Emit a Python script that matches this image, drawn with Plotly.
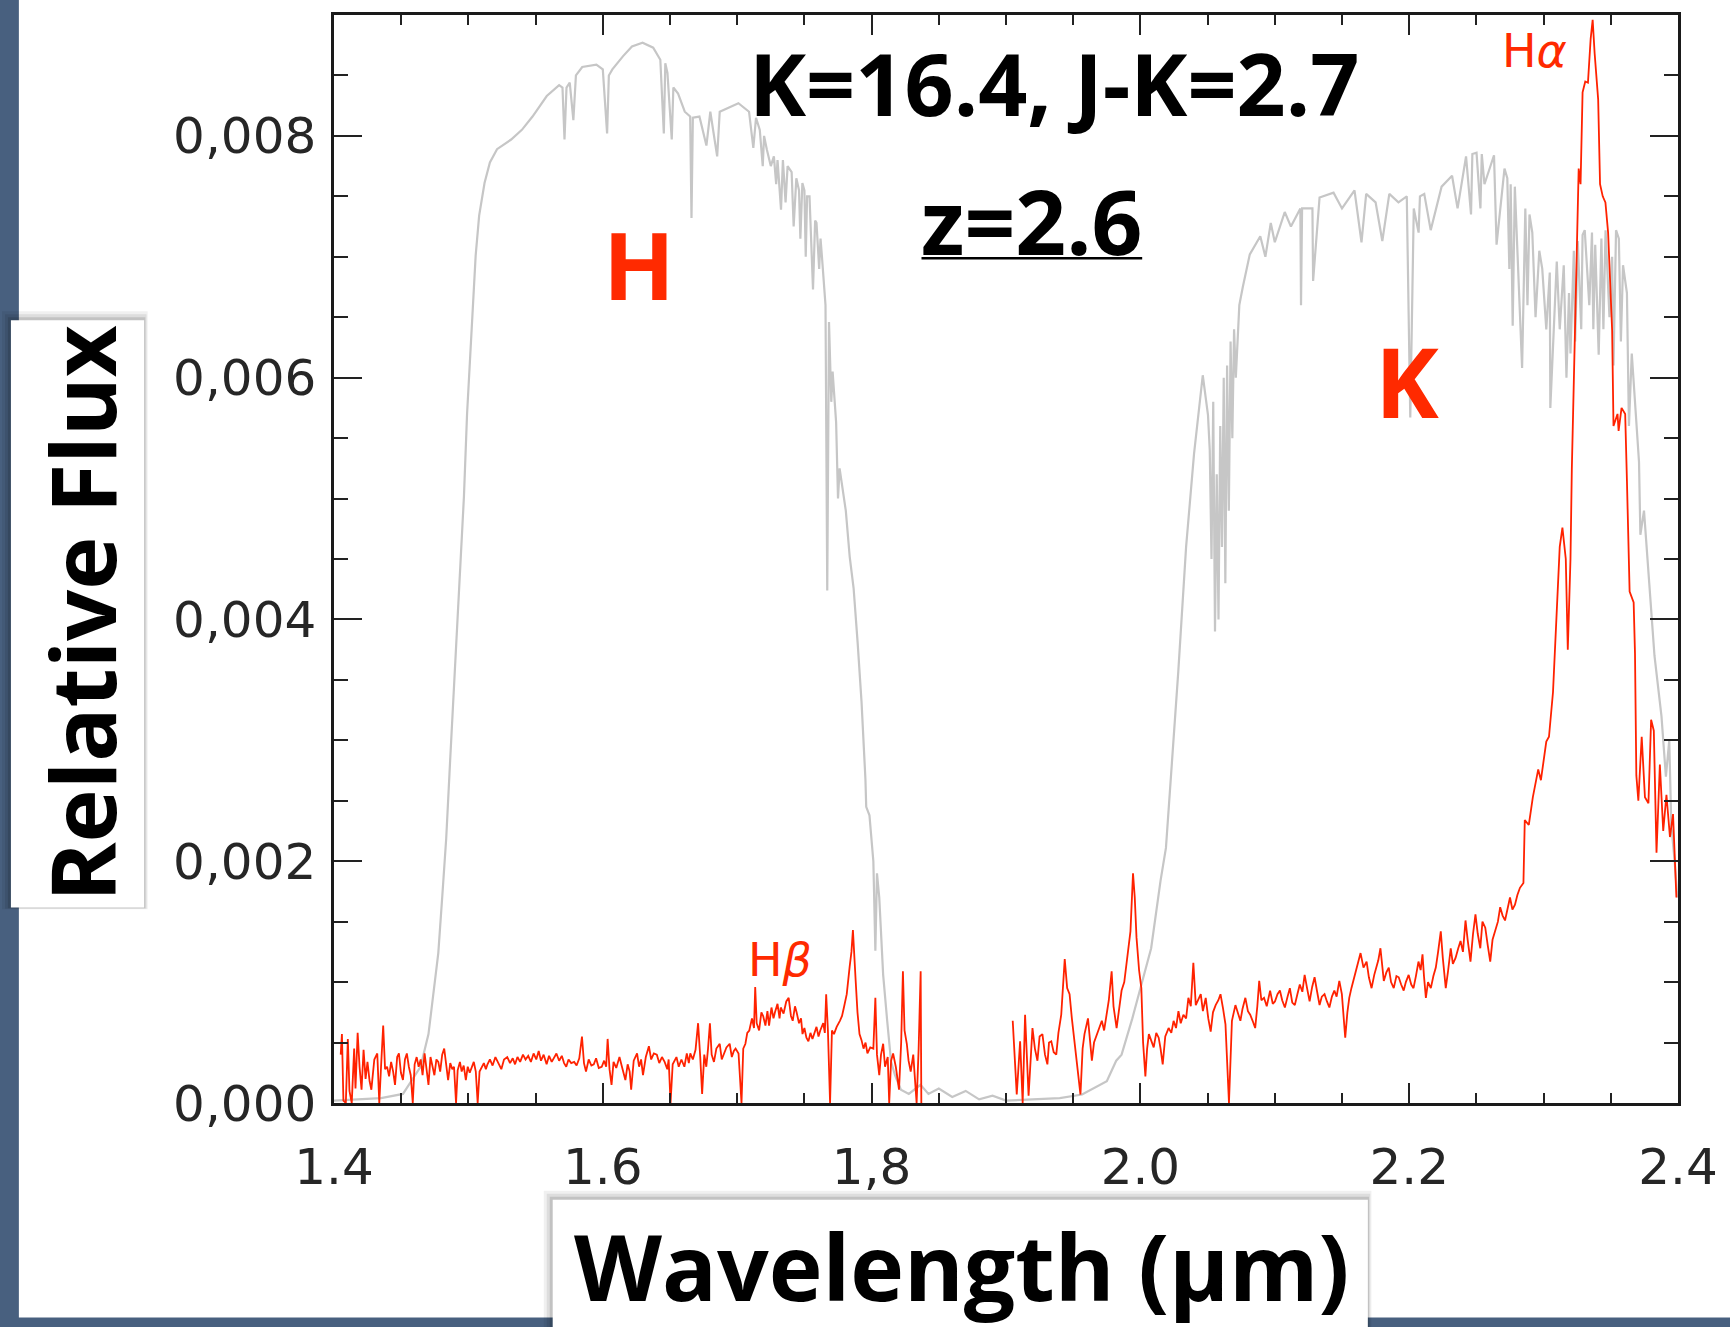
import plotly.graph_objects as go

# ---------------- data ----------------
# gray: atmospheric transmission / band profile (H and K windows)
gray_spec = [
    (1.4000, 0.00002), (1.4200, 0.00003), (1.4350, 0.00004), (1.4513, 0.000075),
    (1.4644, 0.00030), (1.4703, 0.00057), (1.4738, 0.00087), (1.4776, 0.00124),
    (1.4805, 0.00170), (1.4835, 0.00219), (1.4864, 0.00283), (1.4893, 0.00343),
    (1.4914, 0.00388), (1.4937, 0.00434), (1.4967, 0.00502), (1.4990, 0.00570),
    (1.5028, 0.00646), (1.5054, 0.00701), (1.5080, 0.00734), (1.5120, 0.00761),
    (1.5160, 0.00778), (1.5213, 0.00789), (1.5318, 0.00797), (1.5398, 0.00805),
    (1.5477, 0.00816), (1.5583, 0.00833), (1.5675, 0.00842), (1.5700, 0.00840),
    (1.5715, 0.00797), (1.5730, 0.00840), (1.5754, 0.00844), (1.5781, 0.00813),
    (1.5800, 0.00850), (1.5847, 0.00857), (1.5952, 0.00859), (1.6000, 0.00855),
    (1.6032, 0.00802), (1.6045, 0.00850), (1.6071, 0.00855), (1.6151, 0.00866),
    (1.6217, 0.00874), (1.6296, 0.00877), (1.6375, 0.00873), (1.6428, 0.00863),
    (1.6454, 0.00802), (1.6465, 0.00860), (1.6481, 0.00852), (1.6513, 0.00797),
    (1.6525, 0.00840), (1.6560, 0.00835), (1.6610, 0.00820), (1.6650, 0.00816),
    (1.6660, 0.00732), (1.6670, 0.00815), (1.6719, 0.00816), (1.6771, 0.00792),
    (1.6800, 0.00820), (1.6851, 0.00783), (1.6870, 0.00820), (1.6930, 0.00823),
    (1.7009, 0.00827), (1.7088, 0.00820), (1.7120, 0.00790), (1.7140, 0.00815),
    (1.7168, 0.00805), (1.7190, 0.00775), (1.7200, 0.00800), (1.7220, 0.00789),
    (1.7250, 0.00775), (1.7273, 0.00783), (1.7290, 0.00760), (1.7300, 0.00780),
    (1.7326, 0.00739), (1.7340, 0.00780), (1.7360, 0.00745), (1.7375, 0.00775),
    (1.7405, 0.00770), (1.7420, 0.00725), (1.7440, 0.00765), (1.7460, 0.00755),
    (1.7470, 0.00715), (1.7485, 0.00761), (1.7500, 0.00755), (1.7510, 0.00700),
    (1.7520, 0.00750), (1.7538, 0.00750), (1.7564, 0.00673), (1.7580, 0.00730),
    (1.7590, 0.00728), (1.7610, 0.00690), (1.7620, 0.00715), (1.7630, 0.00701),
    (1.7657, 0.00660), (1.7670, 0.00424), (1.7683, 0.00646), (1.7700, 0.00580),
    (1.7710, 0.00605), (1.7736, 0.00563), (1.7750, 0.00500), (1.7762, 0.00525),
    (1.7789, 0.00505), (1.7808, 0.00490), (1.7837, 0.00452), (1.7866, 0.00426),
    (1.7896, 0.00381), (1.7925, 0.00332), (1.7954, 0.00268), (1.7960, 0.00245),
    (1.7984, 0.00238), (1.8013, 0.00200), (1.8028, 0.00126), (1.8040, 0.00190),
    (1.8057, 0.00170), (1.8086, 0.00106), (1.8116, 0.00068), (1.8145, 0.00034),
    (1.8174, 0.00023), (1.8218, 0.00011), (1.8277, 0.000075), (1.8364, 0.00015),
    (1.8423, 0.000075), (1.8500, 0.00012), (1.8600, 0.00005), (1.8700, 0.00010),
    (1.8800, 0.00003), (1.8900, 0.00006), (1.9000, 0.00002), (1.9200, 0.00003),
    (1.9400, 0.00004), (1.9566, 0.00007), (1.9750, 0.00018), (1.9820, 0.00035),
    (1.9860, 0.00040), (1.9940, 0.00070), (2.0000, 0.00095), (2.0080, 0.00128),
    (2.0150, 0.00184), (2.0190, 0.00211), (2.0282, 0.00357), (2.0340, 0.00460),
    (2.0399, 0.00537), (2.0464, 0.00602), (2.0503, 0.00569), (2.0516, 0.00540),
    (2.0529, 0.00450), (2.0542, 0.00580), (2.0555, 0.00390), (2.0568, 0.00520),
    (2.0581, 0.00400), (2.0594, 0.00560), (2.0607, 0.00460), (2.0620, 0.00600),
    (2.0632, 0.00430), (2.0645, 0.00610), (2.0658, 0.00490), (2.0671, 0.00630),
    (2.0684, 0.00550), (2.0697, 0.00640), (2.0710, 0.00600), (2.0736, 0.00660),
    (2.0762, 0.00675), (2.0788, 0.00690), (2.0814, 0.00702), (2.0892, 0.00717),
    (2.0930, 0.00700), (2.0970, 0.00728), (2.1000, 0.00712), (2.1074, 0.00737),
    (2.1120, 0.00725), (2.1190, 0.00740), (2.1195, 0.00660), (2.1203, 0.00740),
    (2.1280, 0.00740), (2.1285, 0.00680), (2.1333, 0.00749), (2.1437, 0.00753),
    (2.1500, 0.00740), (2.1593, 0.00755), (2.1645, 0.00712), (2.1680, 0.00752),
    (2.1750, 0.00745), (2.1800, 0.00713), (2.1852, 0.00752), (2.1920, 0.00745),
    (2.1982, 0.00750), (2.2008, 0.00567), (2.2034, 0.00740), (2.2070, 0.00720),
    (2.2080, 0.00750), (2.2112, 0.00752), (2.2160, 0.00722), (2.2241, 0.00758),
    (2.2319, 0.00767), (2.2360, 0.00740), (2.2423, 0.00783), (2.2460, 0.00735),
    (2.2470, 0.00785), (2.2501, 0.00786), (2.2530, 0.00740), (2.2540, 0.00785),
    (2.2560, 0.00760), (2.2631, 0.00784), (2.2650, 0.00710), (2.2709, 0.00773),
    (2.2730, 0.00765), (2.2745, 0.00690), (2.2755, 0.00760), (2.2770, 0.00643),
    (2.2786, 0.00758), (2.2840, 0.00608), (2.2864, 0.00740), (2.2880, 0.00660),
    (2.2895, 0.00735), (2.2916, 0.00720), (2.2940, 0.00650), (2.2968, 0.00705),
    (2.2990, 0.00690), (2.3020, 0.00640), (2.3046, 0.00687), (2.3050, 0.00575),
    (2.3098, 0.00696), (2.3120, 0.00640), (2.3150, 0.00693), (2.3170, 0.00600),
    (2.3189, 0.00670), (2.3200, 0.00620), (2.3225, 0.00705), (2.3235, 0.00630),
    (2.3254, 0.00713), (2.3280, 0.00640), (2.3290, 0.00718), (2.3306, 0.00722),
    (2.3320, 0.00700), (2.3340, 0.00660), (2.3360, 0.00720), (2.3370, 0.00640),
    (2.3384, 0.00710), (2.3410, 0.00619), (2.3430, 0.00715), (2.3445, 0.00640),
    (2.3461, 0.00722), (2.3490, 0.00650), (2.3510, 0.00700), (2.3520, 0.00610),
    (2.3539, 0.00722), (2.3560, 0.00715), (2.3575, 0.00630), (2.3591, 0.00693),
    (2.3620, 0.00670), (2.3635, 0.00560), (2.3656, 0.00620), (2.3695, 0.00560),
    (2.3710, 0.00530), (2.3720, 0.00470), (2.3747, 0.00490), (2.3786, 0.00430),
    (2.3825, 0.00370), (2.3877, 0.00320), (2.3910, 0.00270), (2.3935, 0.00300),
    (2.3950, 0.00230), (2.3975, 0.00200), (2.3995, 0.00170),
]

# red: observed spectrum, H-band segment
red_h_spec = [
    (1.4050, 0.00040), (1.4059, 0.00057), (1.4070, 0.00002), (1.4088, 0.00000),
    (1.4103, 0.00053), (1.4115, 0.00010), (1.4132, 0.00000), (1.4150, 0.00045),
    (1.4160, 0.00012), (1.4176, 0.00058), (1.4190, 0.00030), (1.4205, 0.00011),
    (1.4220, 0.00044), (1.4235, 0.00020), (1.4249, 0.00034), (1.4265, 0.00018),
    (1.4278, 0.00011), (1.4300, 0.00036), (1.4322, 0.00041), (1.4337, 0.00000),
    (1.4350, 0.00030), (1.4366, 0.00064), (1.4380, 0.00028), (1.4395, 0.00030),
    (1.4410, 0.00022), (1.4425, 0.00034), (1.4440, 0.00026), (1.4454, 0.00015),
    (1.4470, 0.00038), (1.4483, 0.00041), (1.4498, 0.00025), (1.4513, 0.00019),
    (1.4528, 0.00036), (1.4542, 0.00041), (1.4557, 0.00030), (1.4571, 0.00023),
    (1.4586, 0.00000), (1.4600, 0.00032), (1.4615, 0.00038), (1.4630, 0.00030),
    (1.4645, 0.00036), (1.4659, 0.00023), (1.4674, 0.00041), (1.4690, 0.00028),
    (1.4703, 0.00015), (1.4718, 0.00038), (1.4732, 0.00030), (1.4747, 0.00023),
    (1.4762, 0.00036), (1.4776, 0.00034), (1.4790, 0.00026), (1.4805, 0.00040),
    (1.4820, 0.00045), (1.4835, 0.00030), (1.4849, 0.00019), (1.4865, 0.00033),
    (1.4880, 0.00028), (1.4893, 0.00030), (1.4908, 0.00000), (1.4920, 0.00027),
    (1.4937, 0.00034), (1.4950, 0.00026), (1.4965, 0.00031), (1.4981, 0.00019),
    (1.4995, 0.00030), (1.5010, 0.00025), (1.5025, 0.00030), (1.5040, 0.00034),
    (1.5055, 0.00026), (1.5069, 0.00000), (1.5083, 0.00026), (1.5098, 0.00030),
    (1.5115, 0.00033), (1.5130, 0.00028), (1.5142, 0.00032), (1.5160, 0.00036),
    (1.5180, 0.00031), (1.5201, 0.00038), (1.5220, 0.00034), (1.5245, 0.00028),
    (1.5265, 0.00036), (1.5289, 0.00038), (1.5310, 0.00033), (1.5330, 0.00037),
    (1.5347, 0.00032), (1.5365, 0.00038), (1.5385, 0.00034), (1.5406, 0.00040),
    (1.5425, 0.00036), (1.5445, 0.00039), (1.5465, 0.00034), (1.5485, 0.00041),
    (1.5505, 0.00036), (1.5523, 0.00043), (1.5540, 0.00035), (1.5560, 0.00040),
    (1.5582, 0.00032), (1.5600, 0.00039), (1.5620, 0.00034), (1.5637, 0.00038),
    (1.5655, 0.00041), (1.5675, 0.00035), (1.5695, 0.00039), (1.5712, 0.00033),
    (1.5728, 0.00030), (1.5745, 0.00036), (1.5765, 0.00033), (1.5787, 0.00034),
    (1.5805, 0.00031), (1.5825, 0.00037), (1.5845, 0.00055), (1.5860, 0.00033),
    (1.5875, 0.00026), (1.5895, 0.00036), (1.5915, 0.00031), (1.5933, 0.00032),
    (1.5950, 0.00037), (1.5970, 0.00029), (1.5992, 0.00030), (1.6010, 0.00035),
    (1.6025, 0.00030), (1.6036, 0.00053), (1.6050, 0.00028), (1.6065, 0.00015),
    (1.6080, 0.00034), (1.6100, 0.00029), (1.6124, 0.00038), (1.6140, 0.00031),
    (1.6155, 0.00025), (1.6168, 0.00019), (1.6185, 0.00032), (1.6200, 0.00026),
    (1.6211, 0.00011), (1.6230, 0.00035), (1.6255, 0.00041), (1.6270, 0.00030),
    (1.6285, 0.00036), (1.6299, 0.00023), (1.6320, 0.00038), (1.6343, 0.00047),
    (1.6360, 0.00036), (1.6380, 0.00041), (1.6402, 0.00040), (1.6420, 0.00033),
    (1.6440, 0.00038), (1.6460, 0.00034), (1.6480, 0.00028), (1.6490, 0.00036),
    (1.6504, 0.00000), (1.6520, 0.00032), (1.6548, 0.00038), (1.6565, 0.00030),
    (1.6585, 0.00036), (1.6607, 0.00030), (1.6625, 0.00041), (1.6640, 0.00033),
    (1.6651, 0.00041), (1.6670, 0.00036), (1.6690, 0.00044), (1.6709, 0.00066),
    (1.6725, 0.00038), (1.6739, 0.000075), (1.6755, 0.00040), (1.6770, 0.00030),
    (1.6783, 0.00045), (1.6797, 0.00066), (1.6810, 0.00040), (1.6827, 0.00034),
    (1.6845, 0.00045), (1.6870, 0.00049), (1.6885, 0.00036), (1.6900, 0.00041),
    (1.6920, 0.00046), (1.6944, 0.00049), (1.6960, 0.00038), (1.6975, 0.00043),
    (1.6988, 0.00045), (1.7010, 0.00041), (1.7032, 0.00000), (1.7045, 0.00045),
    (1.7061, 0.00049), (1.7075, 0.00058), (1.7090, 0.00060), (1.7110, 0.00070),
    (1.7125, 0.00062), (1.7134, 0.00096), (1.7145, 0.00066), (1.7163, 0.00060),
    (1.7180, 0.00075), (1.7193, 0.00072), (1.7210, 0.00064), (1.7225, 0.00076),
    (1.7237, 0.00064), (1.7255, 0.00079), (1.7270, 0.00070), (1.7281, 0.00075),
    (1.7300, 0.00082), (1.7315, 0.00070), (1.7324, 0.00079), (1.7345, 0.00074),
    (1.7365, 0.00084), (1.7383, 0.00087), (1.7400, 0.00072), (1.7413, 0.00068),
    (1.7430, 0.00080), (1.7442, 0.00075), (1.7460, 0.00066), (1.7475, 0.00070),
    (1.7486, 0.00057), (1.7500, 0.00062), (1.7515, 0.00054), (1.7530, 0.00051),
    (1.7545, 0.00058), (1.7560, 0.00053), (1.7574, 0.00057), (1.7590, 0.00063),
    (1.7605, 0.00055), (1.7618, 0.00060), (1.7640, 0.00066), (1.7652, 0.00058),
    (1.7662, 0.00090), (1.7675, 0.00060), (1.7691, 0.00000), (1.7705, 0.00060),
    (1.7720, 0.00057), (1.7740, 0.00063), (1.7764, 0.00068), (1.7780, 0.00072),
    (1.7794, 0.00079), (1.7815, 0.00090), (1.7837, 0.00113), (1.7850, 0.00125),
    (1.7861, 0.00143), (1.7872, 0.00115), (1.7881, 0.00102), (1.7895, 0.00075),
    (1.7910, 0.00057), (1.7925, 0.00052), (1.7940, 0.00045), (1.7955, 0.00050),
    (1.7969, 0.00041), (1.7990, 0.00046), (1.8013, 0.00045), (1.8028, 0.00087),
    (1.8040, 0.00040), (1.8057, 0.00023), (1.8070, 0.00040), (1.8086, 0.00049),
    (1.8100, 0.00030), (1.8120, 0.00038), (1.8131, 0.00000), (1.8145, 0.00035),
    (1.8160, 0.00041), (1.8180, 0.00030), (1.8204, 0.00011), (1.8220, 0.00050),
    (1.8233, 0.00109), (1.8245, 0.00060), (1.8262, 0.00049), (1.8275, 0.00035),
    (1.8291, 0.00026), (1.8310, 0.00040), (1.8335, 0.00000), (1.8350, 0.00045),
    (1.8365, 0.00109), (1.8370, 0.00000),
]

# red: observed spectrum, K-band segment
red_k_spec = [
    (1.9050, 0.00068), (1.9080, 0.00007), (1.9105, 0.00051), (1.9124, 0.00000),
    (1.9142, 0.00073), (1.9168, 0.00006), (1.9197, 0.00062), (1.9215, 0.00045),
    (1.9234, 0.00035), (1.9250, 0.00055), (1.9271, 0.00057), (1.9290, 0.00040),
    (1.9308, 0.00032), (1.9320, 0.00050), (1.9337, 0.00051), (1.9355, 0.00042),
    (1.9374, 0.00040), (1.9390, 0.00058), (1.9411, 0.00073), (1.9437, 0.00119),
    (1.9455, 0.00095), (1.9473, 0.00090), (1.9490, 0.00070), (1.9510, 0.00051),
    (1.9530, 0.00030), (1.9554, 0.00007), (1.9570, 0.00045), (1.9584, 0.00057),
    (1.9610, 0.00070), (1.9625, 0.00050), (1.9639, 0.00035), (1.9655, 0.00050),
    (1.9676, 0.00057), (1.9695, 0.00062), (1.9713, 0.00068), (1.9730, 0.00060),
    (1.9750, 0.00076), (1.9765, 0.00085), (1.9786, 0.00109), (1.9800, 0.00080),
    (1.9823, 0.00062), (1.9840, 0.00075), (1.9860, 0.00093), (1.9880, 0.00100),
    (1.9897, 0.00117), (1.9926, 0.00142), (1.9945, 0.00190), (1.9958, 0.00170),
    (1.9971, 0.00137), (1.9990, 0.00110), (2.0007, 0.00095), (2.0020, 0.00050),
    (2.0037, 0.00022), (2.0050, 0.00045), (2.0063, 0.00057), (2.0080, 0.00052),
    (2.0099, 0.00046), (2.0118, 0.00058), (2.0136, 0.00054), (2.0150, 0.00045),
    (2.0166, 0.00032), (2.0185, 0.00055), (2.0210, 0.00062), (2.0230, 0.00058),
    (2.0247, 0.00068), (2.0265, 0.00062), (2.0283, 0.00076), (2.0300, 0.00066),
    (2.0320, 0.00073), (2.0340, 0.00070), (2.0357, 0.00087), (2.0375, 0.00080),
    (2.0394, 0.00116), (2.0412, 0.00081), (2.0430, 0.00086), (2.0449, 0.00090),
    (2.0465, 0.00076), (2.0486, 0.00087), (2.0505, 0.00070), (2.0523, 0.00059),
    (2.0540, 0.00075), (2.0560, 0.00081), (2.0580, 0.00085), (2.0596, 0.00090),
    (2.0615, 0.00078), (2.0633, 0.00065), (2.0659, 0.00000), (2.0681, 0.00068),
    (2.0707, 0.00081), (2.0725, 0.00075), (2.0744, 0.00068), (2.0760, 0.00078),
    (2.0781, 0.00087), (2.0800, 0.00076), (2.0817, 0.00073), (2.0835, 0.00068),
    (2.0854, 0.00062), (2.0870, 0.00080), (2.0884, 0.00101), (2.0900, 0.00085),
    (2.0920, 0.00087), (2.0940, 0.00080), (2.0965, 0.00093), (2.0985, 0.00082),
    (2.1001, 0.00084), (2.1020, 0.00090), (2.1038, 0.00093), (2.1055, 0.00085),
    (2.1075, 0.00079), (2.1095, 0.00088), (2.1112, 0.00095), (2.1130, 0.00083),
    (2.1149, 0.00081), (2.1168, 0.00090), (2.1186, 0.00098), (2.1205, 0.00092),
    (2.1222, 0.00106), (2.1240, 0.00095), (2.1259, 0.00084), (2.1278, 0.00096),
    (2.1296, 0.00104), (2.1315, 0.00092), (2.1333, 0.00081), (2.1350, 0.00088),
    (2.1370, 0.00090), (2.1388, 0.00084), (2.1406, 0.00079), (2.1425, 0.00088),
    (2.1443, 0.00093), (2.1460, 0.00088), (2.1480, 0.00101), (2.1499, 0.00090),
    (2.1524, 0.00054), (2.1540, 0.00075), (2.1554, 0.00087), (2.1570, 0.00095),
    (2.1591, 0.00104), (2.1610, 0.00112), (2.1638, 0.00124), (2.1660, 0.00112),
    (2.1683, 0.00117), (2.1700, 0.00104), (2.1720, 0.00095), (2.1740, 0.00106),
    (2.1756, 0.00112), (2.1770, 0.00118), (2.1786, 0.00128), (2.1800, 0.00110),
    (2.1811, 0.00101), (2.1830, 0.00108), (2.1848, 0.00112), (2.1865, 0.00100),
    (2.1885, 0.00095), (2.1905, 0.00105), (2.1922, 0.00104), (2.1940, 0.00098),
    (2.1959, 0.00093), (2.1975, 0.00100), (2.1996, 0.00106), (2.2015, 0.00098),
    (2.2032, 0.00095), (2.2050, 0.00105), (2.2069, 0.00117), (2.2085, 0.00110),
    (2.2099, 0.00123), (2.2110, 0.00105), (2.2124, 0.00087), (2.2140, 0.00100),
    (2.2161, 0.00095), (2.2180, 0.00105), (2.2198, 0.00112), (2.2215, 0.00125),
    (2.2235, 0.00142), (2.2250, 0.00120), (2.2272, 0.00095), (2.2290, 0.00110),
    (2.2309, 0.00128), (2.2325, 0.00115), (2.2345, 0.00120), (2.2365, 0.00128),
    (2.2382, 0.00134), (2.2400, 0.00125), (2.2419, 0.00151), (2.2435, 0.00135),
    (2.2456, 0.00117), (2.2475, 0.00140), (2.2493, 0.00156), (2.2510, 0.00140),
    (2.2529, 0.00128), (2.2545, 0.00150), (2.2566, 0.00145), (2.2585, 0.00130),
    (2.2603, 0.00117), (2.2620, 0.00135), (2.2640, 0.00142), (2.2660, 0.00150),
    (2.2677, 0.00162), (2.2695, 0.00155), (2.2713, 0.00151), (2.2730, 0.00160),
    (2.2750, 0.00170), (2.2768, 0.00160), (2.2787, 0.00164), (2.2805, 0.00172),
    (2.2824, 0.00178), (2.2850, 0.00182), (2.2860, 0.00234), (2.2890, 0.00230),
    (2.2920, 0.00253), (2.2960, 0.00276), (2.2980, 0.00267), (2.3020, 0.00299),
    (2.3040, 0.00303), (2.3070, 0.00340), (2.3090, 0.00386), (2.3120, 0.00460),
    (2.3140, 0.00476), (2.3165, 0.00450), (2.3180, 0.00375), (2.3200, 0.00450),
    (2.3210, 0.00524), (2.3240, 0.00662), (2.3250, 0.00721), (2.3261, 0.00773),
    (2.3275, 0.00760), (2.3290, 0.00836), (2.3310, 0.00845), (2.3330, 0.00844),
    (2.3350, 0.00880), (2.3365, 0.00896), (2.3380, 0.00868), (2.3406, 0.00830),
    (2.3420, 0.00760), (2.3440, 0.00750), (2.3460, 0.00745), (2.3480, 0.00720),
    (2.3510, 0.00639), (2.3520, 0.00560), (2.3550, 0.00570), (2.3558, 0.00556),
    (2.3580, 0.00575), (2.3607, 0.00570), (2.3620, 0.00515), (2.3640, 0.00423),
    (2.3670, 0.00414), (2.3680, 0.00372), (2.3690, 0.00271), (2.3705, 0.00250),
    (2.3730, 0.00303), (2.3754, 0.00253), (2.3780, 0.00248), (2.3800, 0.00317),
    (2.3820, 0.00308), (2.3840, 0.00207), (2.3865, 0.00280), (2.3890, 0.00225),
    (2.3914, 0.00255), (2.3940, 0.00220), (2.3963, 0.00239), (2.3988, 0.00170),
]

x_tick_vals = [1.4, 1.6, 1.8, 2.0, 2.2, 2.4]
x_tick_text = ["1.4", "1.6", "1,8", "2.0", "2.2", "2.4"]
y_tick_vals = [0.0, 0.002, 0.004, 0.006, 0.008]
y_tick_text = ["0,000", "0,002", "0,004", "0,006", "0,008"]

# ---------------- geometry ----------------
W, H = 1730, 1327
L, R, T, B = 334, 44, 12, 224
PW = W - L - R
PH = H - T - B


def px(xp):
    return (xp - L) / PW


def py(yp):
    return (H - B - yp) / PH


RED_LINE = "#ff2200"
RED_TEXT = "#ff2a00"
GRAY = "#c6c6c6"

fig = go.Figure()
gx, gy = zip(*gray_spec)
fig.add_trace(go.Scatter(x=gx, y=gy, mode="lines",
                         line=dict(color=GRAY, width=2.2), hoverinfo="skip"))
for seg in (red_h_spec, red_k_spec):
    rx, ry = zip(*seg)
    fig.add_trace(go.Scatter(x=rx, y=ry, mode="lines",
                             line=dict(color=RED_LINE, width=1.8), hoverinfo="skip"))

tick_font = dict(family="DejaVu Sans", size=50, color="#262626")

fig.update_xaxes(range=[1.4, 2.4], tickvals=x_tick_vals, ticktext=x_tick_text,
                 ticks="inside", ticklen=20, tickwidth=1.6, tickcolor="#222",
                 showline=True, linewidth=2.5, linecolor="#1a1a1a", mirror="allticks",
                 showgrid=False, zeroline=False, tickfont=tick_font,
                 ticklabelstandoff=18,
                 minor=dict(dtick=0.05, tick0=1.4, ticks="inside", ticklen=10,
                            tickwidth=1.6, tickcolor="#222", showgrid=False))
fig.update_yaxes(range=[0, 0.009], tickvals=y_tick_vals, ticktext=y_tick_text,
                 ticks="inside", ticklen=28, tickwidth=1.6, tickcolor="#222",
                 showline=True, linewidth=2.5, linecolor="#1a1a1a", mirror="allticks",
                 showgrid=False, zeroline=False, tickfont=tick_font,
                 ticklabelstandoff=5,
                 minor=dict(dtick=0.0005, tick0=0, ticks="inside", ticklen=14,
                            tickwidth=1.6, tickcolor="#222", showgrid=False))

shapes = []
# white slide panel over the dark textured background
shapes.append(dict(type="rect", xref="paper", yref="paper", layer="below",
                   x0=px(17), x1=px(1740), y0=py(1318), y1=py(-10),
                   fillcolor="white", line=dict(width=0)))


def shadow_box(x0, y0, x1, y1):
    out = []
    for d, op in ((9, 0.06), (6, 0.08), (3, 0.12)):
        out.append(dict(type="rect", xref="paper", yref="paper", layer="above",
                        x0=px(x0 - d), x1=px(x1 + d * 0.4), y0=py(y1 + d * 0.2), y1=py(y0 - d),
                        fillcolor="black", opacity=op, line=dict(width=0)))
    out.append(dict(type="rect", xref="paper", yref="paper", layer="above",
                    x0=px(x0), x1=px(x1), y0=py(y1), y1=py(y0),
                    fillcolor="white", line=dict(width=0)))
    return out


shapes += shadow_box(9, 318, 143, 907)
shapes += shadow_box(554, 1200, 1374, 1340)
# underline under z=2.6
shapes.append(dict(type="line", xref="paper", yref="paper", layer="above",
                   x0=px(925), x1=px(1147), y0=py(256), y1=py(256),
                   line=dict(color="black", width=2.5)))


def ann(text, x, y, size, color="black", family="Open Sans", weight=700, angle=0):
    return dict(text=text, xref="paper", yref="paper", x=px(x), y=py(y),
                xanchor="center", yanchor="middle", showarrow=False, textangle=angle,
                font=dict(family=family, size=size, color=color, weight=weight))


annotations = [
    ann("K=16.4, J-K=2.7", 1058, 80, 86),
    ann("z=2.6", 1036, 218, 89),
    ann("H", 641, 262, 94, color=RED_TEXT),
    ann("K", 1413, 379, 96, color=RED_TEXT),
    ann("H<i>α</i>", 1542, 48, 46, color=RED_TEXT, family="DejaVu Sans", weight=400),
    ann("H<i>β</i>", 783, 960, 46, color=RED_TEXT, family="DejaVu Sans", weight=400),
    ann("Relative Flux", 80, 612, 90, angle=-90),
    ann("Wavelength (µm)", 965, 1266, 91),
]

fig.update_layout(width=W, height=H, autosize=False,
                  margin=dict(l=L, r=R, t=T, b=B, pad=0),
                  paper_bgcolor="#48607f", plot_bgcolor="white",
                  showlegend=False, shapes=shapes, annotations=annotations)

fig.write_html("out.html", config={"displayModeBar": False})
